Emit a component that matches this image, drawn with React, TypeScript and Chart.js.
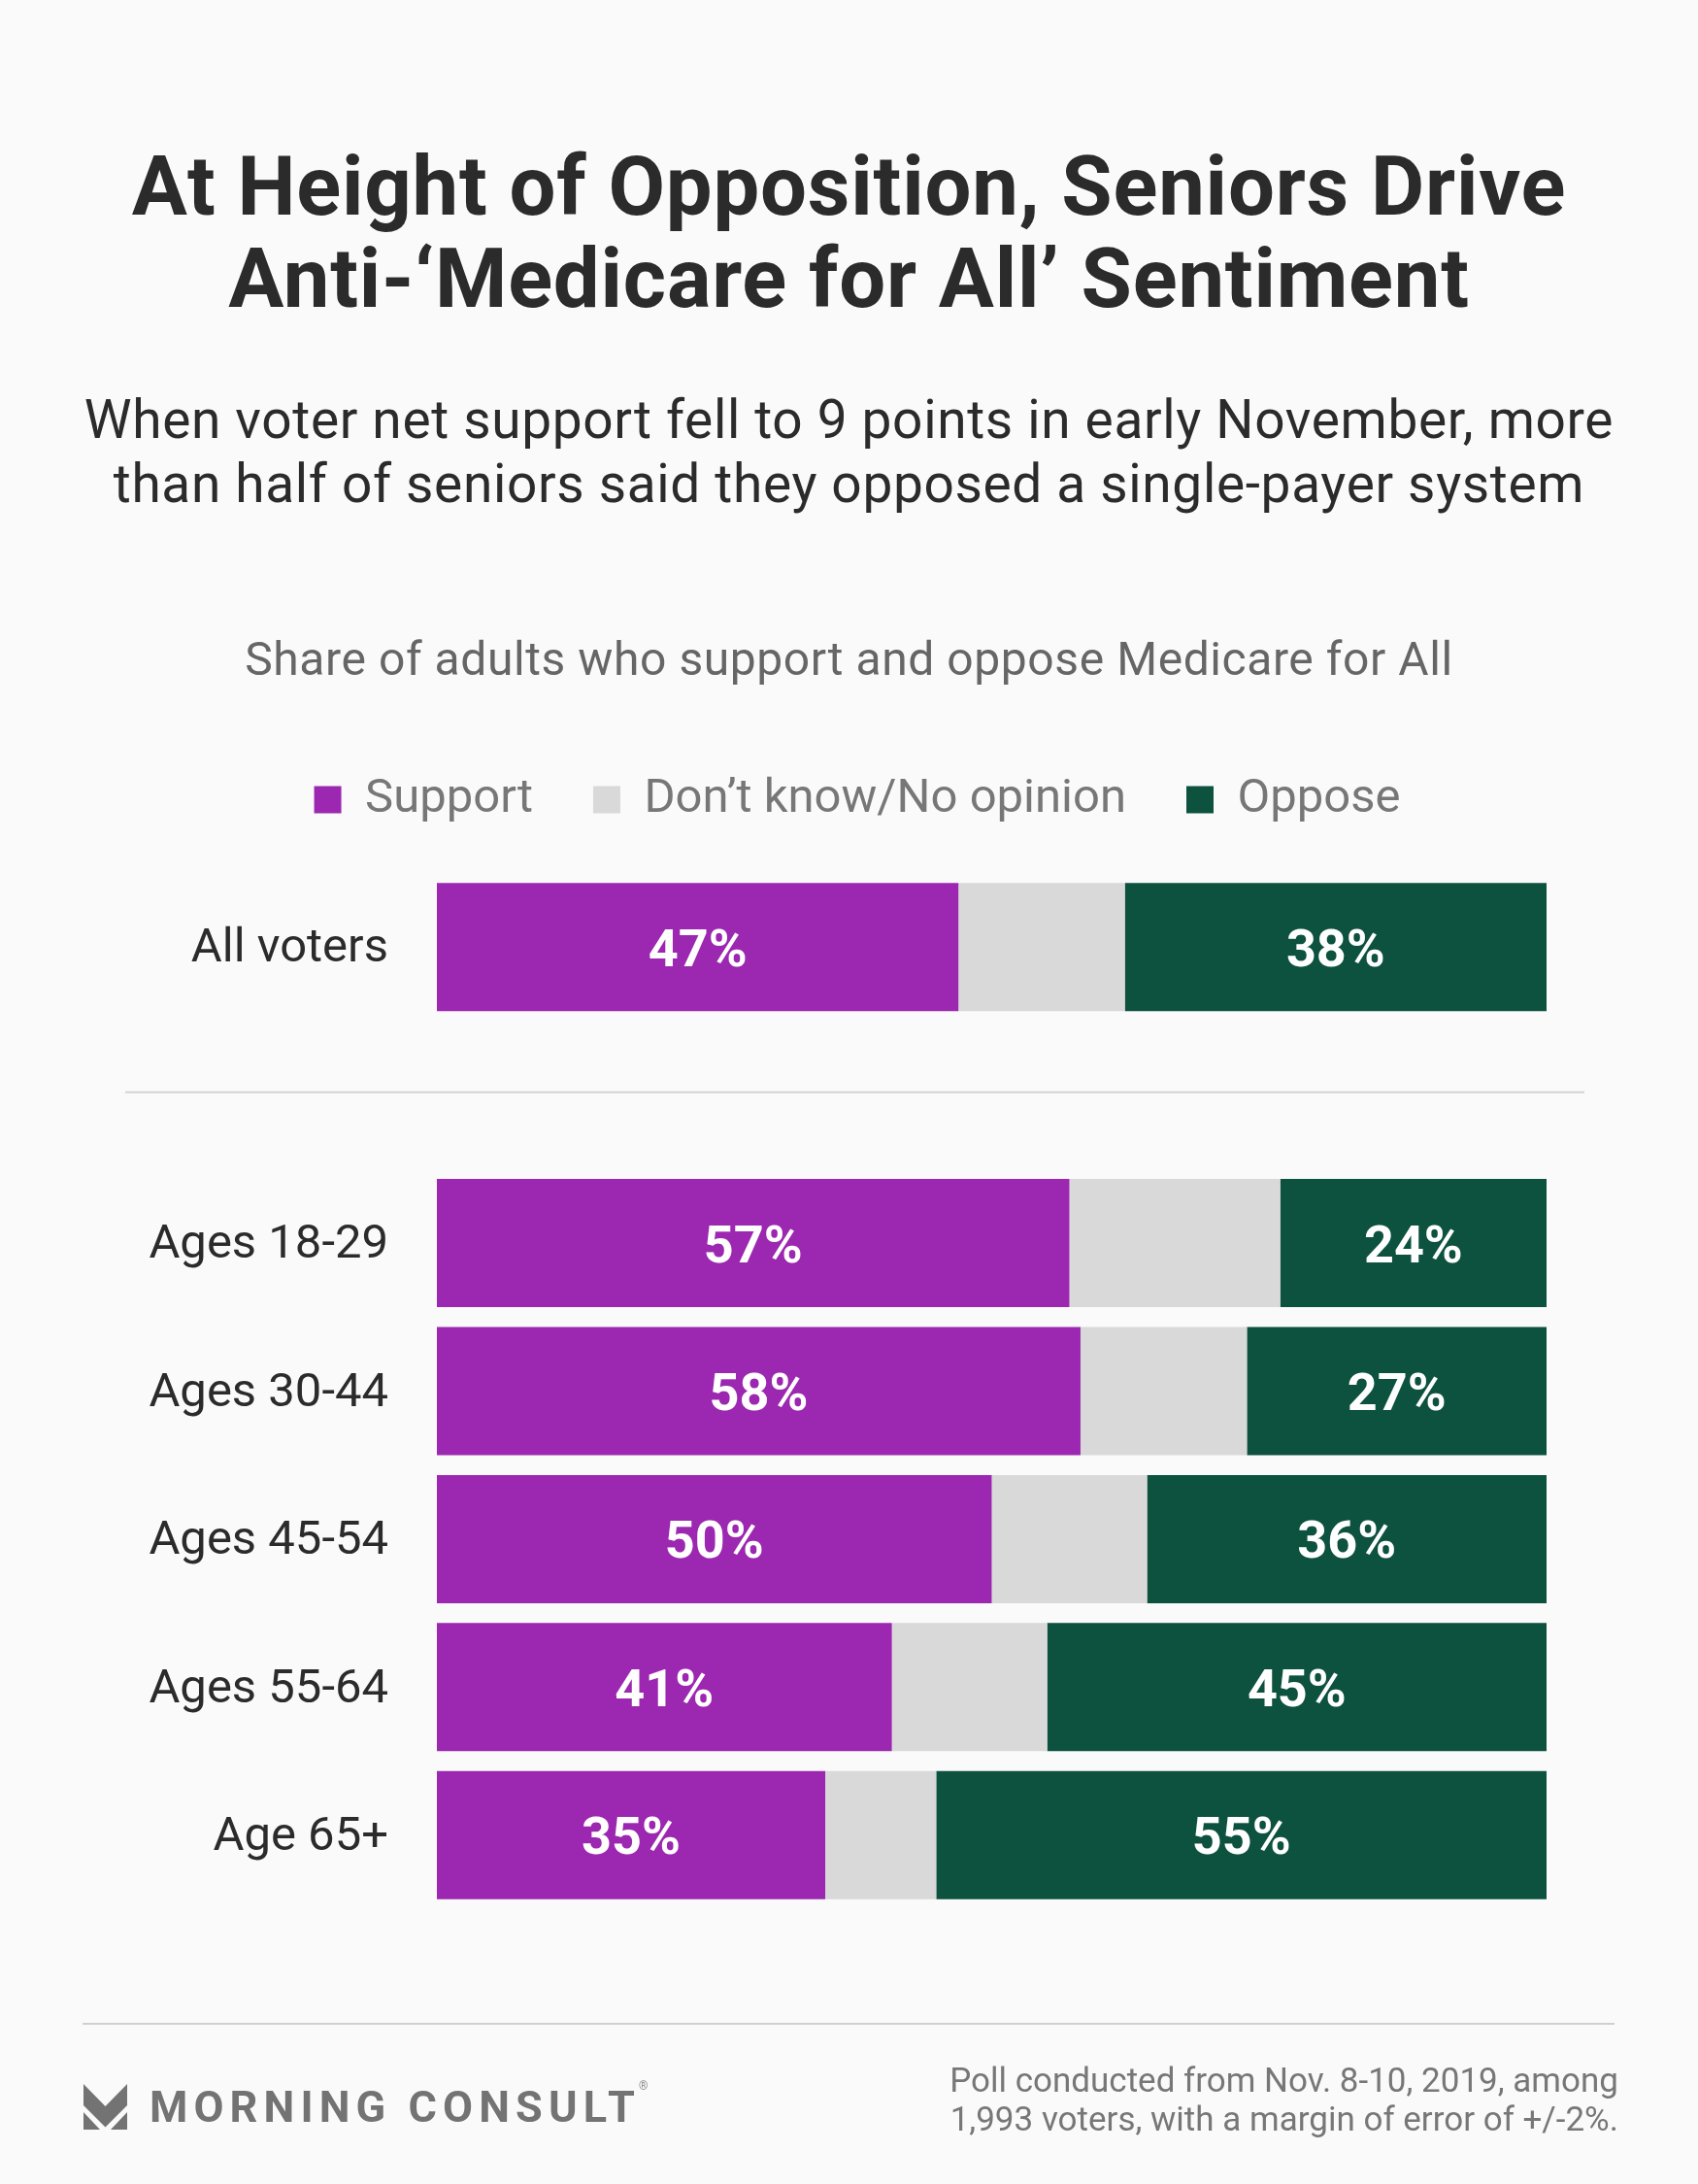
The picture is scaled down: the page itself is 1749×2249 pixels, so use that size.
import React, { useEffect, useRef } from "react";
import { Chart, registerables } from "chart.js";

Chart.register(...registerables);

// ---- data ----
const categories = ["All voters", "", "Ages 18-29", "Ages 30-44", "Ages 45-54", "Ages 55-64", "Age 65+"];
const supportValues = [47, null, 57, 58, 50, 41, 35];
const dontKnowValues = [15, null, 19, 15, 14, 14, 10];
const opposeValues = [38, null, 24, 27, 36, 45, 55];
const seriesNames = ["Support", "Don\u2019t know/No opinion", "Oppose"];
const seriesColors = ["#9c27b0", "#d9d9d9", "#0d513f"];
const labeledSeries = [0, 2];

const separatorPlugin = {
  id: "separator",
  beforeDatasetsDraw(chart: any) {
    const y = chart.scales.y.getPixelForValue(1) - 3;
    const { left, right } = chart.chartArea;
    const ctx = chart.ctx;
    ctx.save();
    ctx.strokeStyle = "#d4d4d4";
    ctx.lineWidth = 2;
    ctx.beginPath();
    ctx.moveTo(left - 321, y);
    ctx.lineTo(right + 39, y);
    ctx.stroke();
    ctx.restore();
  },
};

const valueLabelPlugin = {
  id: "valueLabels",
  afterDatasetsDraw(chart: any) {
    const ctx = chart.ctx;
    ctx.save();
    ctx.font = "700 54px Roboto";
    ctx.fillStyle = "#ffffff";
    ctx.textAlign = "center";
    ctx.textBaseline = "middle";
    labeledSeries.forEach((di) => {
      const meta = chart.getDatasetMeta(di);
      meta.data.forEach((bar: any, i: number) => {
        const v = chart.data.datasets[di].data[i];
        if (v == null) return;
        const p = bar.getProps(["x", "base", "y"], true);
        ctx.fillText(`${v}%`, (p.x + p.base) / 2, p.y + 6);
      });
    });
    ctx.restore();
  },
};

export default function App() {
  const canvasRef = useRef<HTMLCanvasElement | null>(null);

  useEffect(() => {
    const canvas = canvasRef.current;
    if (!canvas) return;
    const allSeries = [supportValues, dontKnowValues, opposeValues];
    const chart = new Chart(canvas, {
      type: "bar",
      data: {
        labels: categories,
        datasets: seriesNames.map((name, k) => ({
          label: name,
          data: allSeries[k] as any,
          backgroundColor: seriesColors[k],
          borderWidth: 0,
          categoryPercentage: 0.866,
          barPercentage: 1,
          xAxisID: "x",
          yAxisID: "y",
        })),
      },
      options: {
        indexAxis: "y",
        responsive: false,
        animation: false,
        layout: { padding: { top: 737, left: 17, right: 0, bottom: 283 } },
        plugins: {
          legend: {
            position: "top",
            align: "center",
            labels: {
              boxWidth: 28,
              boxHeight: 28,
              padding: 62,
              color: "#777777",
              font: { family: "Roboto", size: 49 },
            },
          },
          tooltip: { enabled: false },
          title: { display: false },
        },
        scales: {
          x: {
            stacked: true,
            min: 0,
            max: 100,
            position: "top",
            ticks: { display: false },
            grid: { display: false, drawTicks: false },
            border: { display: false },
            afterFit: (s: any) => {
              s.height = 41;
            },
          },
          y: {
            stacked: true,
            position: "left",
            ticks: {
              padding: 50,
              labelOffset: 3,
              color: "#2b2b2b",
              font: { family: "Roboto", size: 49 },
            },
            grid: { display: false, drawTicks: false },
            border: { display: false },
            afterFit: (s: any) => {
              s.width = 433;
            },
          },
          yRight: {
            type: "linear",
            axis: "y",
            position: "right",
            display: true,
            ticks: { display: false },
            grid: { display: false, drawTicks: false },
            border: { display: false },
            afterFit: (s: any) => {
              s.width = 156;
            },
          },
        },
      } as any,
      plugins: [separatorPlugin, valueLabelPlugin],
    });
    return () => chart.destroy();
  }, []);

  return (
    <div
      style={{
        position: "absolute",
        left: 0,
        top: 0,
        width: 1749,
        height: 2249,
        background: "#fafafa",
        overflow: "hidden",
        fontFamily: "Roboto, sans-serif",
      }}
    >
      <canvas
        ref={canvasRef}
        width={1749}
        height={2249}
        style={{ position: "absolute", left: 0, top: 0, width: 1749, height: 2249 }}
      />
      <div
        style={{
          position: "absolute",
          left: 0,
          top: 145,
          width: 1749,
          textAlign: "center",
          fontWeight: 700,
          fontSize: 85,
          lineHeight: "95px",
          letterSpacing: 0.8,
          color: "#2b2b2b",
        }}
      >
        At Height of Opposition, Seniors Drive
        <br />
        Anti-‘Medicare for All’ Sentiment
      </div>
      <div
        style={{
          position: "absolute",
          left: 0,
          top: 399,
          width: 1749,
          textAlign: "center",
          fontWeight: 400,
          fontSize: 55,
          lineHeight: "66px",
          letterSpacing: 0.66,
          color: "#2b2b2b",
        }}
      >
        When voter net support fell to 9 points in early November, more
        <br />
        than half of seniors said they opposed a single-payer system
      </div>
      <div
        style={{
          position: "absolute",
          left: 0,
          top: 655,
          width: 1749,
          textAlign: "center",
          fontSize: 48,
          lineHeight: "48px",
          letterSpacing: 0.57,
          color: "#666666",
        }}
      >
        Share of adults who support and oppose Medicare for All
      </div>
      <div
        style={{
          position: "absolute",
          left: 85,
          top: 2083,
          width: 1578,
          height: 2,
          background: "#cfcfcf",
        }}
      />
      <svg
        width={45}
        height={47}
        viewBox="0 0 45 47"
        style={{ position: "absolute", left: 86, top: 2146 }}
      >
        <polygon points="0,0 22.5,23 45,0 45,22 22.5,44.5 0,22" fill="#737373" />
        <polygon points="0,29 17,47 0,47" fill="#737373" />
        <polygon points="45,29 45,47 28,47" fill="#737373" />
      </svg>
      <div
        style={{
          position: "absolute",
          left: 154,
          top: 2147,
          fontWeight: 700,
          fontSize: 45,
          lineHeight: "45px",
          letterSpacing: 6.1,
          color: "#737373",
          whiteSpace: "nowrap",
        }}
      >
        MORNING CONSULT
      </div>
      <div
        style={{
          position: "absolute",
          left: 658,
          top: 2142,
          fontSize: 12,
          lineHeight: "12px",
          color: "#8a8a8a",
        }}
      >
        ®
      </div>
      <div
        style={{
          position: "absolute",
          right: 82,
          top: 2123,
          textAlign: "right",
          fontSize: 35,
          lineHeight: "40px",
          color: "#777777",
          whiteSpace: "nowrap",
        }}
      >
        Poll conducted from Nov. 8-10, 2019, among
        <br />
        1,993 voters, with a margin of error of +/-2%.
      </div>
    </div>
  );
}
